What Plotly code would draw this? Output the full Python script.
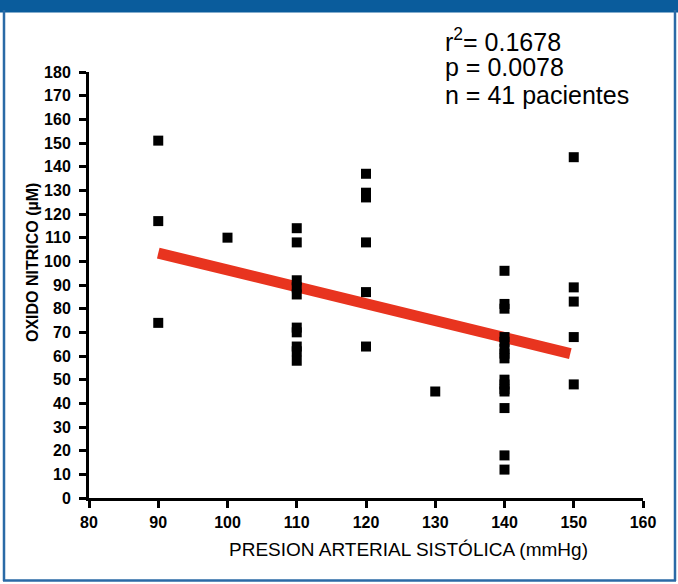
import plotly.graph_objects as go

# Data
pas_x = [90, 90, 90,
         100,
         110, 110, 110, 110, 110, 110, 110, 110, 110, 110,
         120, 120, 120, 120, 120, 120,
         130,
         140, 140, 140, 140, 140, 140, 140, 140, 140, 140, 140, 140, 140, 140, 140,
         150, 150, 150, 150, 150]
no_y = [151, 117, 74,
        110,
        114, 108, 92, 89, 86, 72, 70, 64, 62, 58,
        137, 129, 127, 108, 87, 64,
        45,
        96, 82, 80, 68, 66, 63, 61, 59, 50, 48, 46, 45, 38, 18, 12,
        144, 89, 83, 68, 48]
fit_x = [90, 149.5]
fit_y = [103.5, 61]
x_ticks = [80, 90, 100, 110, 120, 130, 140, 150, 160]
y_ticks = list(range(0, 190, 10))
stats_lines = ["r<sup>2</sup>= 0.1678", "p = 0.0078", "n = 41 pacientes"]

W, H = 678, 584
L, R, T, B = 89, 643, 72, 498


def px(x):
    return (x - L) / (R - L)


def py(y):
    return (B - y) / (B - T)


fig = go.Figure()
fig.add_trace(go.Scatter(x=fit_x, y=fit_y, mode="lines",
                         line=dict(color="#e8341f", width=11), hoverinfo="skip"))
fig.add_trace(go.Scatter(x=pas_x, y=no_y, mode="markers",
                         marker=dict(symbol="square", size=10, color="black",
                                     line=dict(width=0))))

tick_font = dict(family="Liberation Sans, Arial", size=16, color="black", weight="bold")
fig.update_xaxes(range=[80, 160], tickvals=x_ticks, ticks="outside", ticklen=7,
                 tickwidth=2.5, tickcolor="black", showline=True, linecolor="black",
                 linewidth=3, showgrid=False, zeroline=False,
                 tickfont=tick_font, ticklabelstandoff=1)
fig.update_yaxes(range=[0, 180], tickvals=y_ticks, ticks="outside", ticklen=7,
                 tickwidth=2.5, tickcolor="black", showline=True, linecolor="black",
                 linewidth=3, showgrid=False, zeroline=False,
                 tickfont=tick_font, ticklabelstandoff=5)

shapes = [
    # top banner
    dict(type="rect", xref="paper", yref="paper", x0=px(0), x1=px(W), y0=py(12.5), y1=py(-5),
         fillcolor="#0a5c9c", line=dict(width=0), layer="above"),
    # frame lines
    dict(type="line", xref="paper", yref="paper", x0=px(4), x1=px(4), y0=py(581), y1=py(10),
         line=dict(color="#2a6aa6", width=2.5)),
    dict(type="line", xref="paper", yref="paper", x0=px(675), x1=px(675), y0=py(581), y1=py(10),
         line=dict(color="#2a6aa6", width=2.5)),
    dict(type="line", xref="paper", yref="paper", x0=px(3), x1=px(676), y0=py(580.5), y1=py(580.5),
         line=dict(color="#2a6aa6", width=2.5)),
]

annotations = []
for i, s in enumerate(stats_lines):
    annotations.append(dict(text=s, xref="paper", yref="paper", x=px(443), y=py(39.5 + 27.5 * i),
                            xanchor="left", yanchor="middle", showarrow=False,
                            font=dict(family="Liberation Sans, Arial", size=25, color="black")))
annotations.append(dict(text="PRESION ARTERIAL SISTÓLICA (mmHg)", xref="paper", yref="paper",
                        x=px(408), y=py(549), xanchor="center", yanchor="middle", showarrow=False,
                        font=dict(family="Liberation Sans, Arial", size=19, color="black")))
annotations.append(dict(text="OXIDO NITRICO (µM)", xref="paper", yref="paper",
                        x=px(32), y=py(263), xanchor="center", yanchor="middle", showarrow=False,
                        textangle=-90,
                        font=dict(family="Liberation Sans, Arial", size=16, color="black",
                                  weight="bold")))

fig.update_layout(width=W, height=H, margin=dict(l=L, r=W - R, t=T, b=H - B),
                  paper_bgcolor="white", plot_bgcolor="white", showlegend=False,
                  shapes=shapes, annotations=annotations)

fig.write_html("out.html")
